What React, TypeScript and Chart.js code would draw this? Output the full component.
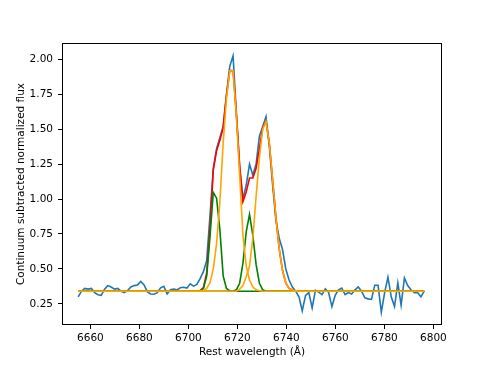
import { useEffect, useRef } from "react";
import { Chart, registerables } from "chart.js";

Chart.register(...registerables);

// Rest-frame wavelength grid (Å)
const wavelength = [
  6655.0, 6656.35, 6657.69, 6659.04, 6660.38, 6661.73, 6663.07, 6664.42, 6665.76, 6667.11,
  6668.45, 6669.8, 6671.14, 6672.49, 6673.83, 6675.18, 6676.52, 6677.87, 6679.21, 6680.56,
  6681.9, 6683.25, 6684.59, 6685.94, 6687.28, 6688.63, 6689.97, 6691.32, 6692.66, 6694.01,
  6695.35, 6696.7, 6698.04, 6699.39, 6700.73, 6702.08, 6703.42, 6704.77, 6706.11, 6707.46,
  6708.8, 6710.15, 6711.49, 6712.84, 6714.18, 6715.53, 6716.87, 6718.22, 6719.56, 6720.91,
  6722.25, 6723.6, 6724.94, 6726.29, 6727.63, 6728.98, 6730.32, 6731.67, 6733.01, 6734.36,
  6735.7, 6737.05, 6738.39, 6739.74, 6741.08, 6742.43, 6743.77, 6745.12, 6746.46, 6747.81,
  6749.15, 6750.5, 6751.84, 6753.19, 6754.53, 6755.88, 6757.22, 6758.57, 6759.91, 6761.26,
  6762.6, 6763.95, 6765.29, 6766.64, 6767.98, 6769.33, 6770.67, 6772.02, 6773.36, 6774.71,
  6776.05, 6777.4, 6778.74, 6780.09, 6781.43, 6782.78, 6784.12, 6785.47, 6786.81, 6788.16,
  6789.5, 6790.85, 6792.19, 6793.54, 6794.88, 6796.23,
];

// Observed continuum-subtracted normalized flux
const flux = [
  0.3, 0.34, 0.36, 0.355, 0.36, 0.33, 0.315, 0.31, 0.355, 0.38,
  0.37, 0.355, 0.36, 0.34, 0.33, 0.345, 0.37, 0.38, 0.385, 0.41,
  0.385, 0.335, 0.32, 0.318, 0.33, 0.364, 0.375, 0.32, 0.35, 0.355,
  0.35, 0.365, 0.368, 0.362, 0.393, 0.376, 0.388, 0.43, 0.48, 0.56,
  0.88, 1.22, 1.36, 1.44, 1.52, 1.75, 1.95, 2.025, 1.62, 1.22,
  1.0, 1.1, 1.25, 1.17, 1.25, 1.45, 1.52, 1.59, 1.38, 1.1,
  0.85, 0.72, 0.64, 0.5, 0.42, 0.37, 0.34, 0.3, 0.2, 0.31,
  0.33, 0.22, 0.347, 0.333, 0.316, 0.357, 0.33, 0.23, 0.31, 0.35,
  0.362, 0.316, 0.33, 0.32, 0.35, 0.37, 0.34, 0.293, 0.285, 0.281,
  0.383, 0.383, 0.19, 0.33, 0.44, 0.3, 0.23, 0.4, 0.24, 0.435,
  0.38, 0.35, 0.33, 0.33, 0.3, 0.34,
];

// Fit components: continuum level and values over the line window (grid index 36..67)
const CONTINUUM = 0.34;
const MODEL_START = 36;

const totalFit = [
  0.34, 0.344, 0.365, 0.47, 0.79, 1.207, 1.346, 1.42, 1.51, 1.74,
  1.921, 1.918, 1.61, 1.241, 0.981, 1.051, 1.15, 1.15, 1.22, 1.36,
  1.51, 1.555, 1.4, 1.14, 0.87, 0.645, 0.49, 0.4, 0.36, 0.348,
  0.342, 0.34,
];

const narrowBlue = [
  0.34, 0.343, 0.36, 0.45, 0.73, 1.047, 1.006, 0.78, 0.45, 0.36,
  0.343, 0.34, 0.34, 0.34, 0.34, 0.34, 0.34, 0.34, 0.34, 0.34,
  0.34, 0.34, 0.34, 0.34, 0.34, 0.34, 0.34, 0.34, 0.34, 0.34,
  0.34, 0.34,
];

const narrowRed = [
  0.34, 0.34, 0.34, 0.34, 0.34, 0.34, 0.34, 0.34, 0.34, 0.34,
  0.34, 0.34, 0.35, 0.397, 0.54, 0.767, 0.89, 0.74, 0.53, 0.397,
  0.35, 0.34, 0.34, 0.34, 0.34, 0.34, 0.34, 0.34, 0.34, 0.34,
  0.34, 0.34,
];

const broadBlue = [
  0.34, 0.341, 0.345, 0.36, 0.4, 0.5, 0.68, 0.98, 1.4, 1.72,
  1.918, 1.918, 1.6, 1.17, 0.74, 0.52, 0.42, 0.37, 0.35, 0.343,
  0.34, 0.34, 0.34, 0.34, 0.34, 0.34, 0.34, 0.34, 0.34, 0.34,
  0.34, 0.34,
];

const broadRed = [
  0.34, 0.34, 0.34, 0.34, 0.34, 0.34, 0.34, 0.34, 0.34, 0.34,
  0.34, 0.34, 0.34, 0.354, 0.381, 0.444, 0.52, 0.72, 1.02, 1.3,
  1.5, 1.555, 1.4, 1.14, 0.87, 0.645, 0.49, 0.4, 0.36, 0.348,
  0.342, 0.34,
];

const xTicks = [6660, 6680, 6700, 6720, 6740, 6760, 6780, 6800];
const yTicks = [0.25, 0.5, 0.75, 1.0, 1.25, 1.5, 1.75, 2.0];

const X_MIN = 6648.4;
const X_MAX = 6803.5;
const Y_MIN = 0.098;
const Y_MAX = 2.117;

function modelPoints(vals: number[]) {
  const pts = [{ x: wavelength[0], y: CONTINUUM }];
  vals.forEach((v, k) => pts.push({ x: wavelength[MODEL_START + k], y: v }));
  pts.push({ x: wavelength[wavelength.length - 1], y: CONTINUUM });
  return pts;
}

const framePlugin = {
  id: "frame",
  afterDatasetsDraw(chart: any) {
    const { ctx, chartArea } = chart;
    const { left, top, right, bottom } = chartArea;
    ctx.save();
    ctx.strokeStyle = "#000";
    ctx.lineWidth = 1;
    ctx.strokeRect(left + 0.5, top + 0.5, right - left - 1, bottom - top - 1);
    ctx.restore();
  },
};

export default function App() {
  const ref = useRef<HTMLCanvasElement | null>(null);

  useEffect(() => {
    if (!ref.current) return;
    const font = { family: "DejaVu Sans", size: 10.5 };
    const line = (label: string, data: any[], color: string, order: number) => ({
      label,
      data,
      borderColor: color,
      backgroundColor: color,
      borderWidth: 1.6,
      pointRadius: 0,
      tension: 0,
      fill: false,
      order,
    });
    const chart = new Chart(ref.current, {
      type: "line",
      data: {
        datasets: [
          line("data", wavelength.map((x, i) => ({ x, y: flux[i] })), "#1f77b4", 6),
          line("total", modelPoints(totalFit), "#ff0000", 5),
          line("narrow 1", modelPoints(narrowBlue), "#008000", 4),
          line("narrow 2", modelPoints(narrowRed), "#008000", 3),
          line("broad 1", modelPoints(broadBlue), "#ffa500", 2),
          line("broad 2", modelPoints(broadRed), "#ffa500", 1),
        ],
      },
      options: {
        responsive: false,
        animation: false,
        devicePixelRatio: 1,
        layout: { padding: { top: 43, right: 49, left: 0, bottom: 0 } },
        plugins: { legend: { display: false }, tooltip: { enabled: false } },
        scales: {
          x: {
            type: "linear",
            min: X_MIN,
            max: X_MAX,
            afterBuildTicks: (s: any) => {
              s.ticks = xTicks.map((v) => ({ value: v }));
            },
            afterFit: (s: any) => {
              s.height = 42;
            },
            grid: { display: true, drawOnChartArea: false, drawTicks: true, tickLength: 4, color: "#000", lineWidth: 1 },
            border: { display: false },
            ticks: { color: "#000", font, padding: 3, maxRotation: 0, callback: (v: any) => String(v) },
            title: { display: true, text: "Rest wavelength (Å)", color: "#000", font, padding: { top: 0, bottom: 8 } },
          },
          y: {
            type: "linear",
            min: Y_MIN,
            max: Y_MAX,
            afterBuildTicks: (s: any) => {
              s.ticks = yTicks.map((v) => ({ value: v }));
            },
            afterFit: (s: any) => {
              s.width = 62;
            },
            grid: { display: true, drawOnChartArea: false, drawTicks: true, tickLength: 4, color: "#000", lineWidth: 1 },
            border: { display: false },
            ticks: { color: "#000", font, padding: 5, callback: (v: any) => Number(v).toFixed(2) },
            title: {
              display: true,
              text: "Continuum subtracted normalized flux",
              color: "#000",
              font,
              padding: { top: 15, bottom: 0 },
            },
          },
        },
      },
      plugins: [framePlugin],
    });
    return () => chart.destroy();
  }, []);

  return (
    <div style={{ position: "fixed", left: 0, top: 0, width: 491, height: 367, background: "#fff" }}>
      <canvas ref={ref} width={491} height={367} style={{ display: "block" }} />
    </div>
  );
}
